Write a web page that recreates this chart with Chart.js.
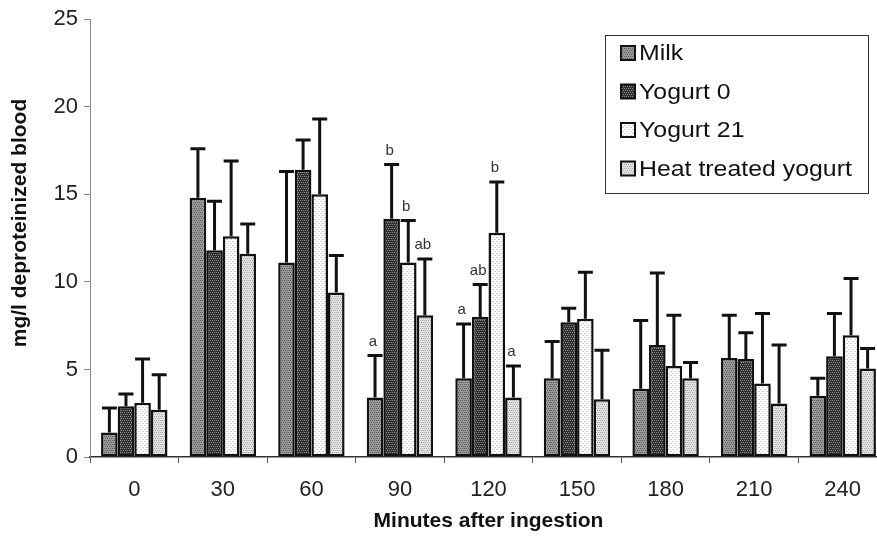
<!DOCTYPE html>
<html>
<head>
<meta charset="utf-8">
<script src="https://cdn.jsdelivr.net/npm/chart.js@4.4.1/dist/chart.umd.min.js"></script>
<style>
  html, body { margin: 0; padding: 0; background: #fff; overflow: hidden; }
  #wrap { width: 890px; height: 540px; }
</style>
</head>
<body>
<div id="wrap"><canvas id="chart" width="890" height="540"></canvas></div>
<script>
// categories (minutes after ingestion)
var minutes = ['0', '30', '60', '90', '120', '150', '180', '210', '240'];
var yTicks = [0, 5, 10, 15, 20, 25];

// means
var milk      = [1.4, 14.8, 11.1, 3.4, 4.5, 4.5, 3.9, 5.65, 3.5];
var yogurt0   = [2.9, 11.8, 16.4, 13.6, 8.0, 7.7, 6.4, 5.6, 5.75];
var yogurt21  = [3.1, 12.6, 15.0, 11.1, 12.8, 7.9, 5.2, 4.2, 6.95];
var heatYog   = [2.7, 11.6, 9.4, 8.1, 3.4, 3.3, 4.5, 3.05, 5.05];

// upper end of the error bars
var milkErr     = [2.8, 17.6, 16.3, 5.8, 7.6, 6.6, 7.8, 8.1, 4.5];
var yogurt0Err  = [3.6, 14.6, 18.1, 16.7, 9.85, 8.5, 10.5, 7.1, 8.2];
var yogurt21Err = [5.6, 16.9, 19.3, 13.5, 15.7, 10.55, 8.1, 8.2, 10.2];
var heatYogErr  = [4.7, 13.3, 11.5, 11.3, 5.2, 6.1, 5.4, 6.4, 6.2];

// significance letters
var milkSig     = ['', '', '', 'a', 'a', '', '', '', ''];
var yogurt0Sig  = ['', '', '', 'b', 'ab', '', '', '', ''];
var yogurt21Sig = ['', '', '', 'b', 'b', '', '', '', ''];
var heatYogSig  = ['', '', '', 'ab', 'a', '', '', '', ''];

var FONT = '"Liberation Sans", Arial, sans-serif';

function makePattern(bg, dot, kind) {
    var c = document.createElement('canvas');
    c.width = 4; c.height = 4;
    var g = c.getContext('2d');
    g.fillStyle = bg;
    g.fillRect(0, 0, 4, 4);
    g.fillStyle = dot;
    if (kind === 'dash') {
        g.fillRect(0, 1, 2, 1);
        g.fillRect(2, 3, 2, 1);
    } else {
        g.fillRect(0, 0, 1, 1);
        g.fillRect(2, 0, 1, 1);
        g.fillRect(1, 2, 1, 1);
        g.fillRect(3, 2, 1, 1);
    }
    return g.createPattern(c, 'repeat');
}

var ctx = document.getElementById('chart').getContext('2d');

var fills = [
    makePattern('#9a9a9a', '#5a5a5a'),
    makePattern('#2e2e2e', '#8a8a8a'),
    makePattern('#ffffff', '#d0d0d0', 'dash'),
    makePattern('#e2e2e2', '#a8a8a8')
];

function ds(label, data, err, sig, fill) {
    return {
        label: label,
        data: data,
        err: err,
        sig: sig,
        backgroundColor: fill,
        borderColor: '#111',
        borderWidth: 2.5,
        borderSkipped: false,
        categoryPercentage: 0.75,
        barPercentage: 1.0
    };
}

var errorBars = {
    id: 'errorBars',
    afterDatasetsDraw: function (chart) {
        var c = chart.ctx;
        var ys = chart.scales.y;
        c.save();
        chart.data.datasets.forEach(function (d, di) {
            var meta = chart.getDatasetMeta(di);
            meta.data.forEach(function (bar, i) {
                var top = ys.getPixelForValue(d.err[i]);
                c.strokeStyle = '#111';
                c.lineWidth = 3;
                c.beginPath();
                c.moveTo(bar.x, bar.y);
                c.lineTo(bar.x, top);
                c.moveTo(bar.x - 7.5, top);
                c.lineTo(bar.x + 7.5, top);
                c.stroke();
                if (d.sig[i]) {
                    c.fillStyle = '#333';
                    c.font = '15px ' + FONT;
                    c.textAlign = 'center';
                    c.textBaseline = 'middle';
                    c.fillText(d.sig[i], bar.x - 2, top - 14);
                }
            });
        });
        c.restore();
    }
};

var boxLegend = {
    id: 'boxLegend',
    afterDraw: function (chart) {
        var c = chart.ctx;
        c.save();
        c.strokeStyle = '#333';
        c.lineWidth = 1;
        c.fillStyle = '#fff';
        c.fillRect(605, 35, 263, 158);
        c.strokeRect(605.5, 35.5, 263, 158);
        c.textBaseline = 'middle';
        c.textAlign = 'left';
        chart.data.datasets.forEach(function (d, i) {
            var y = 53 + i * 38.5;
            c.fillStyle = d.backgroundColor;
            c.fillRect(621, y - 7, 14, 14);
            c.lineWidth = 2;
            c.strokeStyle = '#111';
            c.strokeRect(621, y - 7, 14, 14);
            c.save();
            c.translate(639, y + 1);
            c.scale(1.13, 1);
            c.fillStyle = '#111';
            c.font = '22px ' + FONT;
            c.fillText(d.label, 0, 0);
            c.restore();
        });

        // y axis title, a bit above the axis centre as in the original
        c.save();
        c.translate(20, 223);
        c.rotate(-Math.PI / 2);
        c.textAlign = 'center';
        c.textBaseline = 'middle';
        c.fillStyle = '#111';
        c.font = 'bold 21px ' + FONT;
        c.fillText('mg/l deproteinized blood', 0, 0);
        c.restore();
        c.restore();
    }
};

var chart = new Chart(ctx, {
    type: 'bar',
    data: {
        labels: minutes,
        datasets: [
            ds('Milk', milk, milkErr, milkSig, fills[0]),
            ds('Yogurt 0', yogurt0, yogurt0Err, yogurt0Sig, fills[1]),
            ds('Yogurt 21', yogurt21, yogurt21Err, yogurt21Sig, fills[2]),
            ds('Heat treated yogurt', heatYog, heatYogErr, heatYogSig, fills[3])
        ]
    },
    options: {
        responsive: false,
        animation: false,
        layout: { padding: { top: 19, right: 3, left: 0, bottom: 0 } },
        plugins: {
            legend: { display: false },
            tooltip: { enabled: false }
        },
        scales: {
            x: {
                grid: { drawOnChartArea: false, tickLength: 6, color: '#555', offset: true },
                border: { color: '#333', width: 1.5 },
                ticks: {
                    color: '#222',
                    padding: 14,
                    font: { family: FONT, size: 22 }
                },
                title: {
                    display: true,
                    text: 'Minutes after ingestion',
                    color: '#111',
                    padding: { top: 0, bottom: 6 },
                    font: { family: FONT, size: 21, weight: 'bold' }
                },
                afterFit: function (s) { s.height = 83; }
            },
            y: {
                min: 0,
                max: 25,
                afterBuildTicks: function (s) {
                    s.ticks = yTicks.map(function (v) { return { value: v }; });
                },
                grid: { drawOnChartArea: false, tickLength: 6, color: '#888' },
                border: { color: '#888', width: 1 },
                ticks: {
                    color: '#222',
                    padding: 6,
                    font: { family: FONT, size: 22 }
                },
                afterFit: function (s) { s.width = 90; }
            }
        }
    },
    plugins: [errorBars, boxLegend]
});
</script>
</body>
</html>
